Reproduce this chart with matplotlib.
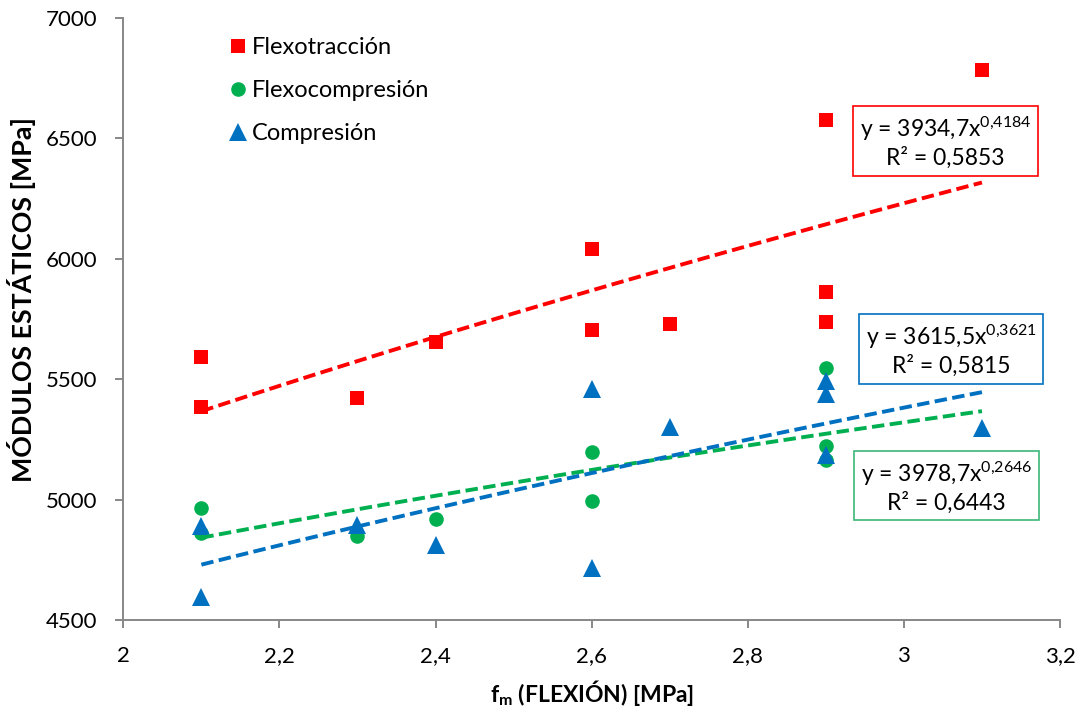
import numpy as np
import matplotlib
matplotlib.use("Agg")
import matplotlib.pyplot as plt

plt.rcParams['font.family'] = ['Lato', 'DejaVu Sans']
plt.rcParams['mathtext.fontset'] = 'custom'
plt.rcParams['mathtext.rm'] = 'Lato'
plt.rcParams['mathtext.it'] = 'Lato:italic'
plt.rcParams['mathtext.bf'] = 'Lato:bold'

# ---- data ----
fm_flexotraccion = [2.1, 2.1, 2.3, 2.4, 2.6, 2.6, 2.7, 2.9, 2.9, 2.9, 3.1]
E_flexotraccion = [5593, 5385, 5422, 5655, 6041, 5705, 5729, 6577, 5861, 5738, 6784]

fm_flexocompresion = [2.1, 2.1, 2.3, 2.4, 2.6, 2.6, 2.9, 2.9, 2.9]
E_flexocompresion = [4967, 4860, 4850, 4919, 5199, 4995, 5545, 5224, 5165]

fm_compresion = [2.1, 2.1, 2.3, 2.4, 2.6, 2.6, 2.7, 2.9, 2.9, 2.9, 3.1]
E_compresion = [4891, 4597, 4894, 4812, 5458, 4718, 5302, 5494, 5437, 5187, 5299]

# power trendlines y = a * x^b (as reported on the chart), drawn over fm range 2.1-3.1
fit_flexotraccion = (3934.7, 0.4184, 0.5853)
fit_compresion = (3615.5, 0.3621, 0.5815)
fit_flexocompresion = (3978.7, 0.2646, 0.6443)
trend_range = (2.1, 3.1)

x_ticks = [2.0, 2.2, 2.4, 2.6, 2.8, 3.0, 3.2]
x_ticklabels = ["2", "2,2", "2,4", "2,6", "2,8", "3", "3,2"]
y_ticks = [4500, 5000, 5500, 6000, 6500, 7000]

RED = '#FF0000'
GREEN = '#00B050'
BLUE = '#0070C0'

fig = plt.figure(figsize=(10.83, 7.18), dpi=100)
ax = fig.add_axes([123.3 / 1083, 1 - 620 / 718, (1060 - 123.3) / 1083, (620 - 18) / 718])

ax.plot(fm_flexotraccion, E_flexotraccion, 's', color=RED, ms=10, mew=0,
        label='Flexotracción', zorder=3)
ax.plot(fm_flexocompresion, E_flexocompresion, 'o', color=GREEN, ms=10.5, mew=0,
        label='Flexocompresión', zorder=3)
ax.plot(fm_compresion, E_compresion, '^', color=BLUE, ms=12.5, mew=0,
        label='Compresión', zorder=3)

def trend(fit, color):
    a, b, _ = fit
    xx = np.linspace(trend_range[0], trend_range[1], 100)
    ax.plot(xx, a * xx ** b, color=color, lw=2.8, linestyle=(0, (3.2, 1.4)),
            dash_capstyle='butt', zorder=4)

trend(fit_flexotraccion, RED)
trend(fit_flexocompresion, GREEN)
trend(fit_compresion, BLUE)

ax.set_xlim(2.0, 3.2)
ax.set_ylim(4500, 7000)
ax.set_xticks(x_ticks)
ax.set_xticklabels(x_ticklabels)
ax.set_yticks(y_ticks)

for s in ['top', 'right']:
    ax.spines[s].set_visible(False)
for s in ['left', 'bottom']:
    ax.spines[s].set_color('#878787')
    ax.spines[s].set_linewidth(1.4)
ax.tick_params(axis='both', direction='out', length=5.5, width=1.4, color='#878787',
               labelsize=16, labelcolor='#000000')
ax.tick_params(axis='x', pad=13)
ax.tick_params(axis='y', pad=13)

ax.set_ylabel('MÓDULOS ESTÁTICOS [MPa]', fontsize=19.3, fontweight='bold')
ax.yaxis.set_label_coords(-0.0935, 0.532)
ax.set_xlabel(r'$\mathbf{f}_{\mathbf{m}}$ (FLEXIÓN) [MPa]', fontsize=16.5,
              fontweight='bold', labelpad=9)

leg = ax.legend(loc='upper left', bbox_to_anchor=(0.1032, 0.984), frameon=False,
                fontsize=17, handlelength=0.7, handletextpad=0.26,
                labelspacing=0.94, borderaxespad=0)

def eqbox(fit, color, cx, cy):
    a, b, r2 = fit
    sa = f"{a:.1f}".replace('.', ',')
    sb = f"{b:.4f}".replace('.', '{,}')
    sr = f"{r2:.4f}".replace('.', ',')
    txt = f"y = {sa}x$^{{{sb}}}$\nR² = {sr}"
    fig.text(cx / 1083, 1 - cy / 718, txt, ha='center', va='center', fontsize=16.5,
             multialignment='center', linespacing=1.2,
             bbox=dict(boxstyle='square,pad=0.3', fc='white', ec=color, lw=1.2),
             zorder=5)

eqbox(fit_flexotraccion, RED, 945.5, 142)
eqbox(fit_compresion, BLUE, 951, 350)
eqbox(fit_flexocompresion, '#3CB878', 946.5, 486.5)

fig.savefig('out.png', dpi=100)
